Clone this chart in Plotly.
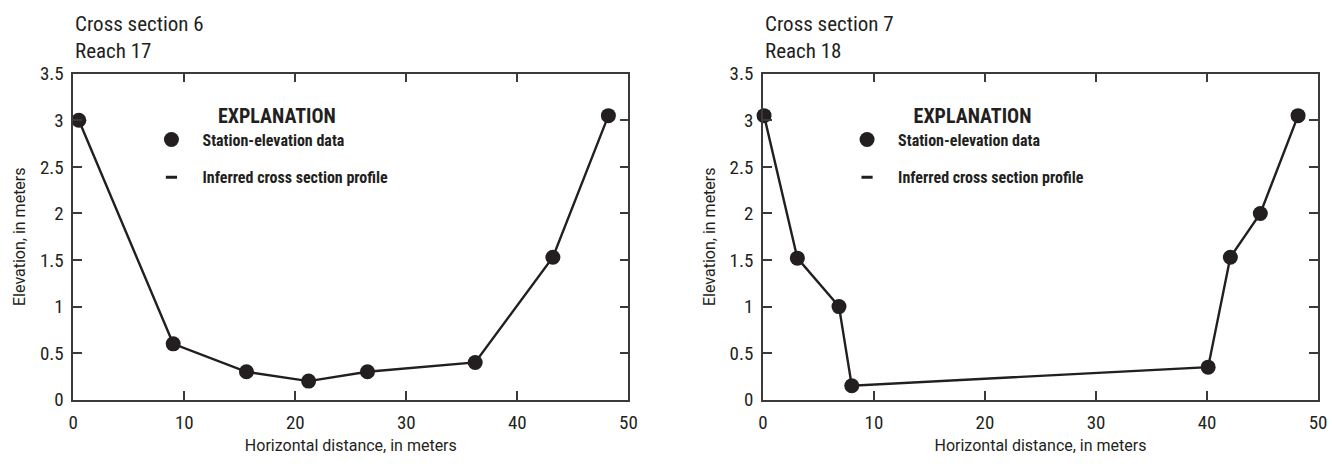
import plotly.graph_objects as go
from plotly.subplots import make_subplots

# Station-elevation survey points, cross section 6 (reach 17)
xs6_dist = [0.5, 9.0, 15.6, 21.2, 26.5, 36.2, 43.2, 48.2]
xs6_elev = [3.0, 0.6, 0.3, 0.2, 0.3, 0.4, 1.53, 3.05]

# Station-elevation survey points, cross section 7 (reach 18)
xs7_dist = [0.1, 3.1, 6.85, 8.0, 40.1, 42.1, 44.8, 48.2]
xs7_elev = [3.05, 1.52, 1.0, 0.15, 0.35, 1.53, 2.0, 3.05]

x_ticks = [0, 10, 20, 30, 40, 50]
y_ticks = [0, 0.5, 1, 1.5, 2, 2.5, 3, 3.5]

panel_titles = ["Cross section 6<br>Reach 17", "Cross section 7<br>Reach 18"]

INK = "#231f20"
FRAME = "#3a3a3a"
NARROW = "Liberation Sans Narrow, Roboto Condensed, DejaVu Sans Condensed, sans-serif"
TITLE_FONT = "Roboto, Liberation Sans Narrow, sans-serif"
NB = "&nbsp;"

W, H = 1332, 464
fig = make_subplots(rows=1, cols=2)

panels = [(xs6_dist, xs6_elev, 1, "legend"), (xs7_dist, xs7_elev, 2, "legend2")]
for dist, elev, col, leg in panels:
    fig.add_trace(go.Scatter(
        x=dist, y=elev, mode="lines", line=dict(color=INK, width=2.4),
        showlegend=False, cliponaxis=False), row=1, col=col)
    fig.add_trace(go.Scatter(
        x=dist, y=elev, mode="markers", name=NB * 3 + "Station-elevation data",
        marker=dict(color=INK, size=15), cliponaxis=False,
        legend=leg, legendgroup="pts"), row=1, col=col)
    fig.add_trace(go.Scatter(
        x=[None], y=[None], mode="markers", name=NB * 3 + "Inferred cross section profile",
        marker=dict(symbol="line-ew", size=8, line=dict(color=INK, width=3)),
        legend=leg, legendgroup="prof"), row=1, col=col)

# plot-area placement in pixels: (left, right)
px_x = [(69, 630), (766, 1327)]
py_top, py_bot = 66, 409
for i, (l, r) in enumerate(px_x, start=1):
    sfx = "" if i == 1 else str(i)
    fig.layout["xaxis" + sfx].update(
        domain=[l / W, r / W], range=[0, 50], tickvals=x_ticks,
        ticks="inside", ticklen=9, tickwidth=1.5, tickcolor=FRAME,
        showline=True, linecolor=FRAME, linewidth=1.5, mirror="ticks",
        showgrid=False, zeroline=False, ticklabelstandoff=5,
        tickfont=dict(family=NARROW, size=19, color=INK),
        title=dict(text="Horizontal distance, in meters", standoff=7,
                   font=dict(family=TITLE_FONT, size=16, color=INK)))
    fig.layout["yaxis" + sfx].update(
        domain=[1 - py_bot / H, 1 - py_top / H], range=[0, 3.5], tickvals=y_ticks,
        ticks="inside", ticklen=9, tickwidth=1.5, tickcolor=FRAME,
        showline=True, linecolor=FRAME, linewidth=1.5, mirror="ticks",
        showgrid=False, zeroline=False, ticklabelstandoff=4,
        tickfont=dict(family=NARROW, size=19, color=INK),
        title=dict(text="Elevation, in meters", standoff=10,
                   font=dict(family=TITLE_FONT, size=16, color=INK)))
    fig.add_annotation(
        x=l / W, y=1 + 1 / H, xref="paper", yref="paper",
        xanchor="left", yanchor="top", align="left", showarrow=False,
        text=panel_titles[i - 1], font=dict(family=NARROW, size=21, color=INK))

legend_style = dict(
    xanchor="left", yanchor="top", bgcolor="rgba(0,0,0,0)",
    traceorder="grouped", tracegroupgap=14,
    font=dict(family=NARROW, size=16, color=INK, weight="bold"),
    title=dict(text=NB * 14 + "EXPLANATION",
               font=dict(family=NARROW, size=20, color=INK, weight="bold")),
)
fig.update_layout(
    width=W, height=H, margin=dict(l=0, r=0, t=0, b=0),
    plot_bgcolor="white", paper_bgcolor="white",
    legend=dict(x=148 / W, y=1 - 90 / H, **legend_style),
    legend2=dict(x=851 / W, y=1 - 90 / H, **legend_style),
)

fig.write_html("out.html")
